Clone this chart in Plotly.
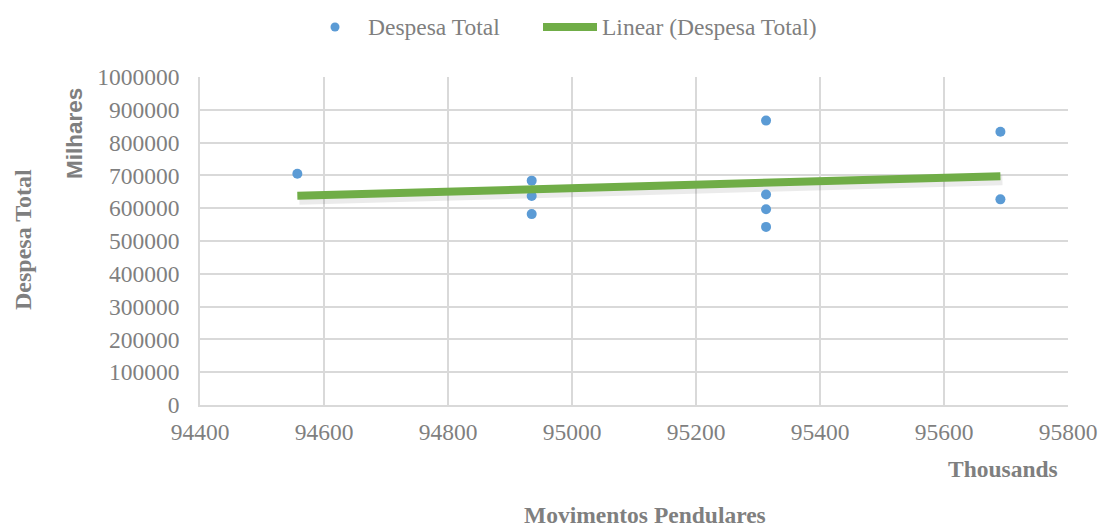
import numpy as np
import plotly.graph_objects as go

# Movimentos Pendulares (thousands) and Despesa Total (milhares)
movimentos = [94557, 94935, 94935, 94935, 95313, 95313, 95313, 95313, 95691, 95691]
despesa = [705000, 684000, 637000, 582000, 867000, 642000, 597000, 543000, 833000, 627000]

x_ticks = [94400, 94600, 94800, 95000, 95200, 95400, 95600, 95800]
y_ticks = [0, 100000, 200000, 300000, 400000, 500000, 600000, 700000, 800000, 900000, 1000000]

series_name = "Despesa Total"
trend_name = "Linear (Despesa Total)"

BLUE = "#5B9BD5"
GREEN = "#70AD47"
GRID = "#D9D9D9"
TEXT = "#7F7F7F"
SERIF = "Liberation Serif, Times New Roman, serif"
SANS = "Liberation Sans, Arial, sans-serif"

W, H = 1099, 529
L, R, T, B = 200, 31, 77, 124
PW, PH = W - L - R, H - T - B


def px(x):
    return (x - L) / PW


def py(y):
    return (H - B - y) / PH


# Least-squares linear trend
slope, intercept = np.polyfit(movimentos, despesa, 1)
tx = np.array([min(movimentos), max(movimentos)])
ty = slope * tx + intercept

fig = go.Figure()

# soft shadow under the trend line
dx = 2 * (x_ticks[-1] - x_ticks[0]) / PW
dy = 4 * (y_ticks[-1] - y_ticks[0]) / PH
fig.add_trace(go.Scatter(
    x=tx + dx, y=ty - dy, mode="lines",
    line=dict(color="rgba(0,0,0,0.08)", width=10),
    hoverinfo="skip", showlegend=False,
))

fig.add_trace(go.Scatter(
    x=movimentos, y=despesa, mode="markers", name=series_name,
    marker=dict(color=BLUE, size=10, line=dict(width=0)),
    showlegend=False,
))

fig.add_trace(go.Scatter(
    x=tx, y=ty, mode="lines", name=trend_name,
    line=dict(color=GREEN, width=8),
    showlegend=False,
))

axis_common = dict(
    showgrid=True, gridcolor=GRID, gridwidth=1.5,
    showline=True, linecolor=GRID, linewidth=1.5,
    zeroline=False, ticks="", automargin=False,
    tickfont=dict(family=SERIF, size=23.5, color=TEXT),
)

fig.update_xaxes(
    range=[x_ticks[0], x_ticks[-1]], tickmode="array", tickvals=x_ticks,
    ticktext=[str(v) for v in x_ticks], ticklabelstandoff=5, **axis_common,
)
fig.update_yaxes(
    range=[y_ticks[0], y_ticks[-1]], tickmode="array", tickvals=y_ticks,
    ticktext=[str(v) for v in y_ticks], ticklabelstandoff=14, **axis_common,
)

annotations = [
    dict(x=px(23), y=py(240), text="<b>Despesa Total</b>", textangle=-90,
         font=dict(family=SERIF, size=24, color=TEXT)),
    dict(x=px(74), y=py(133), text="<b>Milhares</b>", textangle=-90,
         font=dict(family=SANS, size=22.5, color=TEXT)),
    dict(x=px(1003), y=py(469), text="<b>Thousands</b>",
         font=dict(family=SERIF, size=23.5, color=TEXT)),
    dict(x=px(645), y=py(515), text="<b>Movimentos Pendulares</b>",
         font=dict(family=SERIF, size=23.5, color=TEXT)),
    dict(x=px(366), y=py(27), text=series_name, xanchor="left",
         font=dict(family=SERIF, size=23.5, color=TEXT)),
    dict(x=px(600), y=py(27), text=trend_name, xanchor="left",
         font=dict(family=SERIF, size=23.5, color=TEXT)),
]
for a in annotations:
    a.update(xref="paper", yref="paper", showarrow=False)
    a.setdefault("xanchor", "center")
    a.setdefault("yanchor", "middle")

shapes = [
    # legend symbol for the scatter series
    dict(type="circle", xref="paper", yref="paper",
         xsizemode="pixel", ysizemode="pixel",
         xanchor=px(335), yanchor=py(27), x0=-4.5, x1=4.5, y0=-4.5, y1=4.5,
         fillcolor=BLUE, line=dict(width=0)),
    # legend symbol for the trend line
    dict(type="line", xref="paper", yref="paper",
         x0=px(543), x1=px(597), y0=py(27), y1=py(27),
         line=dict(color=GREEN, width=8)),
]

fig.update_layout(
    width=W, height=H,
    margin=dict(l=L, r=R, t=T, b=B, autoexpand=False),
    paper_bgcolor="white", plot_bgcolor="white",
    showlegend=False,
    annotations=annotations, shapes=shapes,
)

fig.write_html("out.html")
